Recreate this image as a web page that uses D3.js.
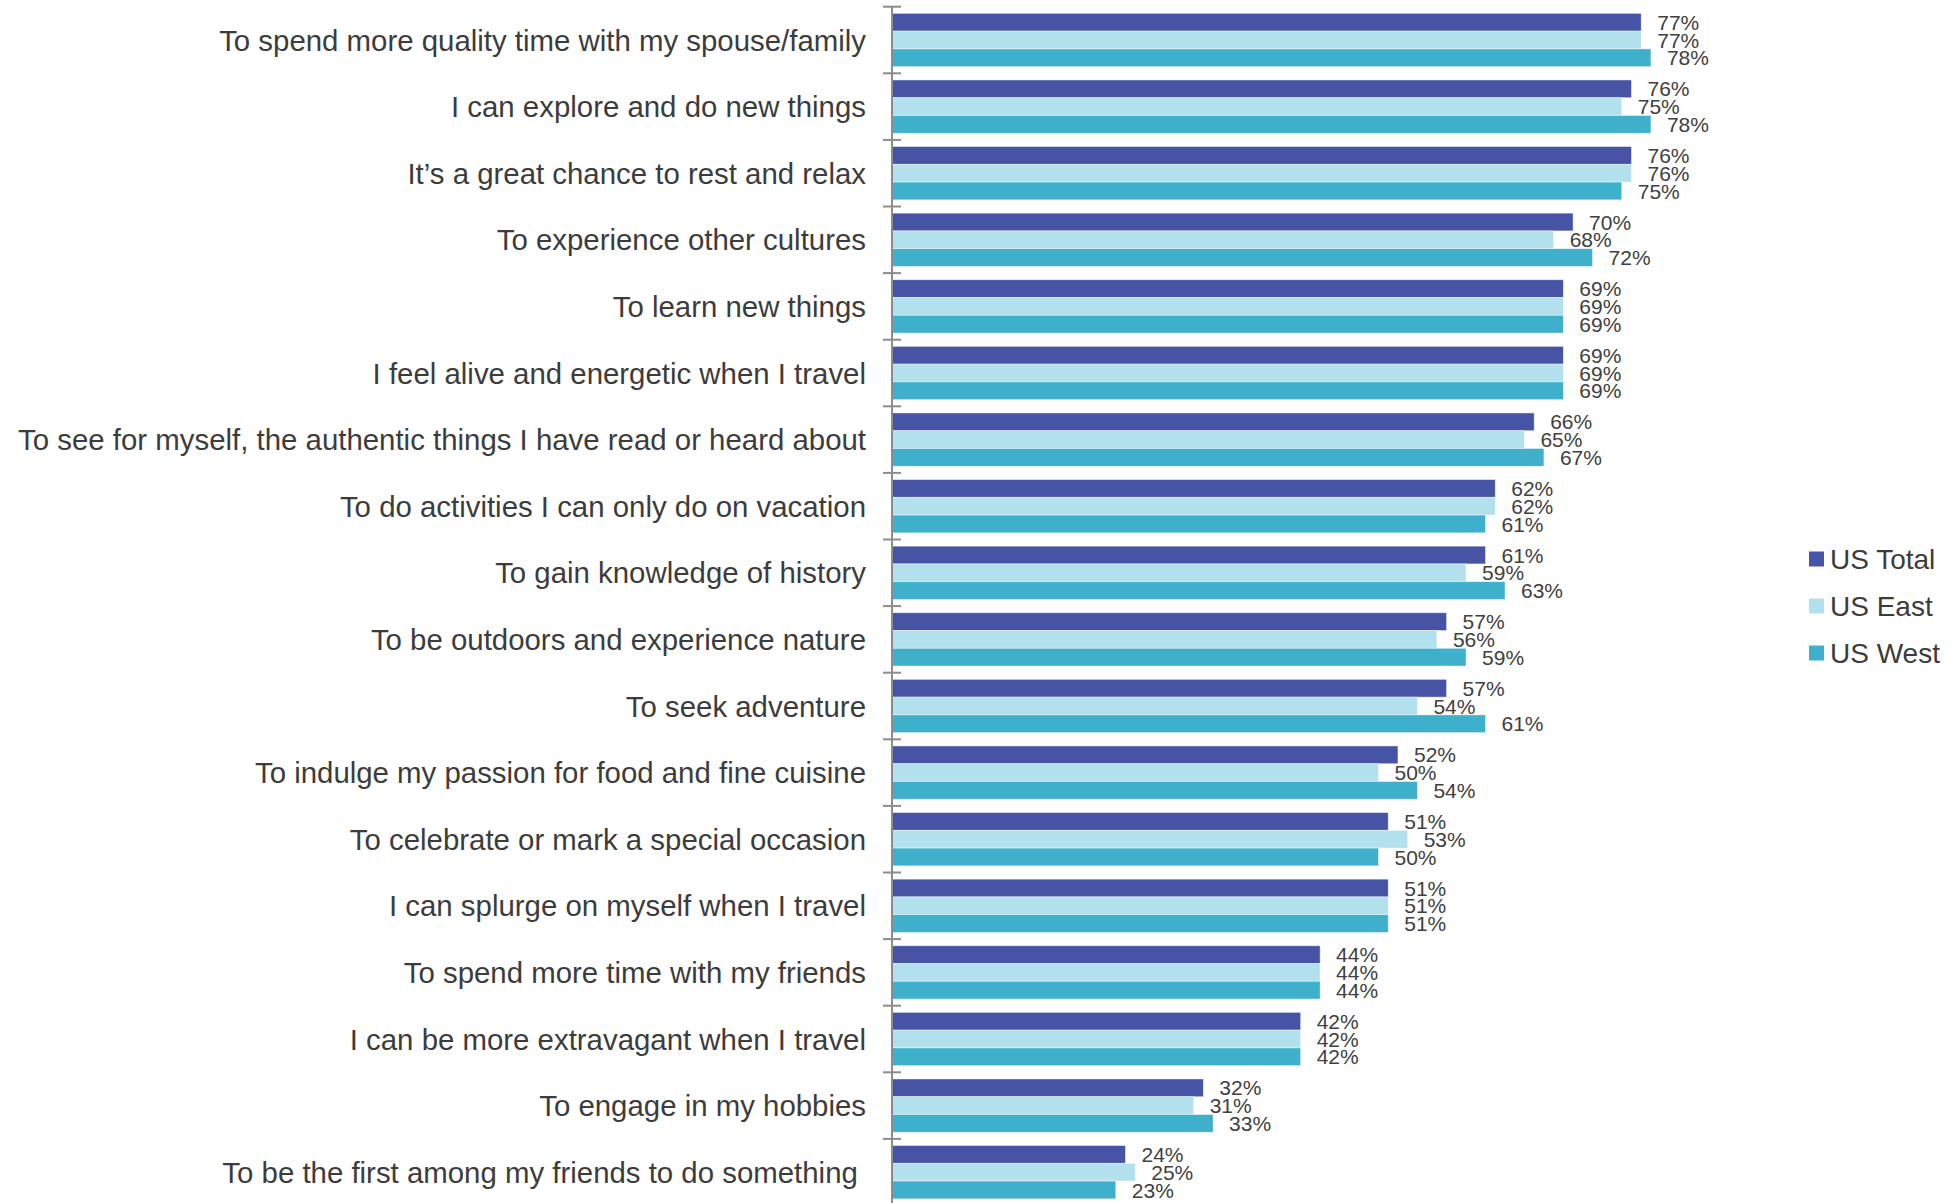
<!DOCTYPE html>
<html>
<head>
<meta charset="utf-8">
<script src="https://cdn.jsdelivr.net/npm/d3@7"></script>
<style>
  html, body { margin: 0; padding: 0; background: #fff; }
  svg { display: block; font-family: "Liberation Sans", Arial, sans-serif; }
</style>
</head>
<body>
<svg id="chart" width="1957" height="1203"></svg>
<script>
const categories = [
  "To spend more quality time with my spouse/family",
  "I can explore and do new things",
  "It\u2019s a great chance to rest and relax",
  "To experience other cultures",
  "To learn new things",
  "I feel alive and energetic when I travel",
  "To see for myself, the authentic things I have read or heard about",
  "To do activities I can only do on vacation",
  "To gain knowledge of history",
  "To be outdoors and experience nature",
  "To seek adventure",
  "To indulge my passion for food and fine cuisine",
  "To celebrate or mark a special occasion",
  "I can splurge on myself when I travel",
  "To spend more time with my friends",
  "I can be more extravagant when I travel",
  "To engage in my hobbies",
  "To be the first among my friends to do something\u00a0"
];
const seriesNames = ["US Total", "US East", "US West"];
const usTotal = [77, 76, 76, 70, 69, 69, 66, 62, 61, 57, 57, 52, 51, 51, 44, 42, 32, 24];
const usEast  = [77, 75, 76, 68, 69, 69, 65, 62, 59, 56, 54, 50, 53, 51, 44, 42, 31, 25];
const usWest  = [78, 78, 75, 72, 69, 69, 67, 61, 63, 59, 61, 54, 50, 51, 44, 42, 33, 23];
const seriesColors = ["#4753a5", "#b2e0ec", "#3eb0cc"];

const seriesValues = [usTotal, usEast, usWest];
const svg = d3.select("#chart");

const axisX = 892;
const y = d3.scaleBand().domain(categories).range([6.7, 6.7 + 18 * 66.6]).padding(0);
const bw = y.bandwidth();
const ySub = d3.scaleBand().domain(seriesNames).range([bw * 0.1, bw * 0.9]).padding(0);
const x = d3.scaleLinear().domain([0, 100]).range([axisX, axisX + 973]);

const rows = categories.map((c, i) => ({
  cat: c,
  vals: seriesNames.map((s, j) => ({ series: s, value: seriesValues[j][i], color: seriesColors[j] }))
}));

const g = svg.append("g");
const groups = g.selectAll("g.cat").data(rows).join("g")
  .attr("class", "cat")
  .attr("transform", d => `translate(0,${y(d.cat)})`);

groups.selectAll("rect").data(d => d.vals).join("rect")
  .attr("x", x(0))
  .attr("y", d => ySub(d.series))
  .attr("width", d => x(d.value) - x(0))
  .attr("height", ySub.bandwidth())
  .attr("fill", d => d.color)
  .attr("stroke", "rgba(255,255,255,0.55)")
  .attr("stroke-width", 0.8);

groups.selectAll("text.val").data(d => d.vals).join("text")
  .attr("class", "val")
  .attr("x", d => x(d.value) + 16)
  .attr("y", d => ySub(d.series) + ySub.bandwidth() / 2)
  .attr("dy", "0.36em")
  .attr("font-size", 21)
  .attr("fill", "#404040")
  .text(d => d.value + "%");

// category labels
groups.append("text")
  .attr("x", 866)
  .attr("y", bw / 2)
  .attr("dy", "0.36em")
  .attr("text-anchor", "end")
  .attr("font-size", 29.4)
  .attr("fill", "#3c3c3c")
  .style("white-space", "pre")
  .text(d => d.cat);

// axis line and crossing ticks
const tickPos = categories.map(c => y(c)).concat([y.range()[1]]);
svg.append("line")
  .attr("x1", axisX).attr("x2", axisX)
  .attr("y1", y.range()[0]).attr("y2", y.range()[1])
  .attr("stroke", "#8c8c8c").attr("stroke-width", 2);
svg.selectAll("line.tick").data(tickPos).join("line")
  .attr("class", "tick")
  .attr("x1", axisX - 9).attr("x2", axisX + 9)
  .attr("y1", d => d).attr("y2", d => d)
  .attr("stroke", "#8c8c8c").attr("stroke-width", 2);

// legend
const legend = svg.append("g").attr("transform", "translate(1809,559)");
const li = legend.selectAll("g").data(seriesNames).join("g")
  .attr("transform", (d, i) => `translate(0,${i * 47})`);
li.append("rect")
  .attr("x", 0).attr("y", -7.5).attr("width", 15).attr("height", 15)
  .attr("fill", (d, i) => seriesColors[i]);
li.append("text")
  .attr("x", 21).attr("y", 0).attr("dy", "0.36em")
  .attr("font-size", 28)
  .attr("fill", "#3c3c3c")
  .text(d => d);
</script>
</body>
</html>
